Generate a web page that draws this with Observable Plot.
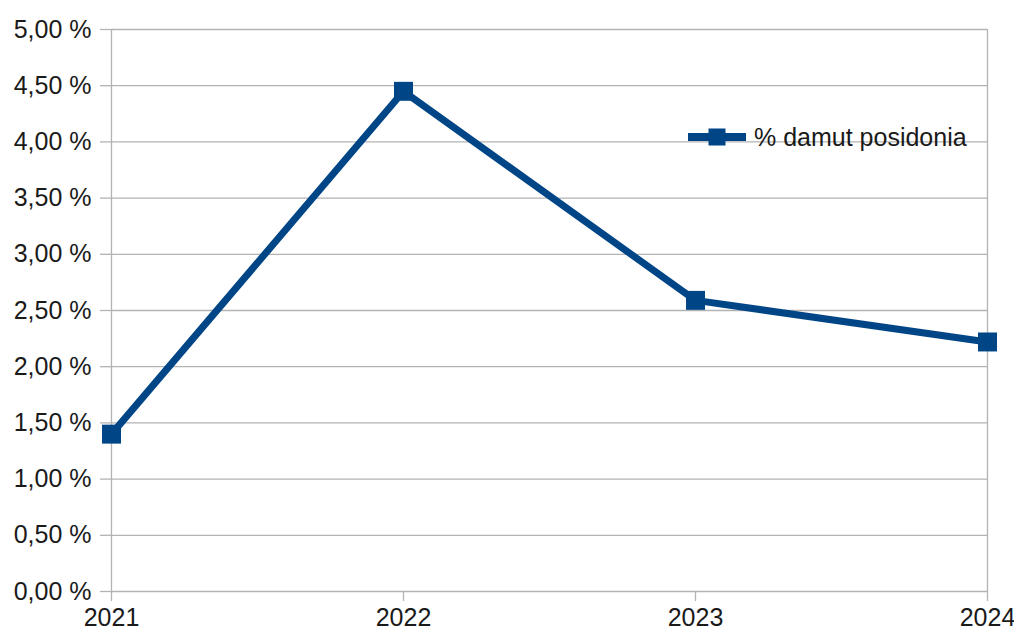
<!DOCTYPE html>
<html><head><meta charset="utf-8">
<script src="https://cdn.jsdelivr.net/npm/d3@7"></script>
<script src="https://cdn.jsdelivr.net/npm/@observablehq/plot@0.6"></script>
<style>
body{margin:0;background:#fff;}
#wrap{position:relative;width:1014px;height:633px;font-family:"Liberation Sans",Arial,sans-serif;}
#legend{position:absolute;left:688px;top:123px;display:flex;align-items:center;font-size:25px;color:#1a1a1a;line-height:28px;}
#legend span{margin-left:8px;}
</style></head><body>
<div id="wrap"><div id="legend"></div></div>
<script>
const years = ["2021", "2022", "2023", "2024"];
const values = [1.40, 4.45, 2.59, 2.22];
const yTicks = [0, 0.5, 1, 1.5, 2, 2.5, 3, 3.5, 4, 4.5, 5];
const seriesName = "% damut posidonia";
const lineColor = "#004586";
const gridColor = "#b3b3b3";

const data = years.map((y, i) => ({year: y, value: values[i]}));
const fmt = d => d.toFixed(2).replace(".", ",") + "\u00a0%";

const chart = Plot.plot({
  width: 1014, height: 633,
  marginLeft: 111, marginRight: 27, marginTop: 29, marginBottom: 42,
  style: {fontFamily: "Liberation Sans, Arial, sans-serif", fontSize: "25px", color: "#1a1a1a", background: "#fff"},
  x: {type: "point", domain: years, padding: 0},
  y: {domain: [0, 5]},
  marks: [
    Plot.ruleY(yTicks, {stroke: gridColor, strokeWidth: 1.3}),
    Plot.ruleX([years[0], years[years.length - 1]], {stroke: gridColor, strokeWidth: 1.3}),
    Plot.axisY({ticks: yTicks, tickFormat: fmt, tickSize: 11, tickPadding: 9, stroke: gridColor, strokeWidth: 1.3, strokeOpacity: 1, label: null}),
    Plot.axisX({tickSize: 10, tickPadding: 7, stroke: gridColor, strokeWidth: 1.3, strokeOpacity: 1, label: null}),
    Plot.line(data, {x: "year", y: "value", stroke: lineColor, strokeWidth: 7}),
    Plot.dot(data, {x: "year", y: "value", symbol: "square", fill: lineColor, stroke: "none", r: 10.7})
  ]
});
document.getElementById("wrap").prepend(chart);

const leg = document.getElementById("legend");
leg.innerHTML = `<svg width="58" height="20"><line x1="0" x2="58" y1="10" y2="10" stroke="${lineColor}" stroke-width="8"/><rect x="20.5" y="1.5" width="17" height="17" fill="${lineColor}"/></svg><span>${seriesName}</span>`;
</script>
</body></html>
